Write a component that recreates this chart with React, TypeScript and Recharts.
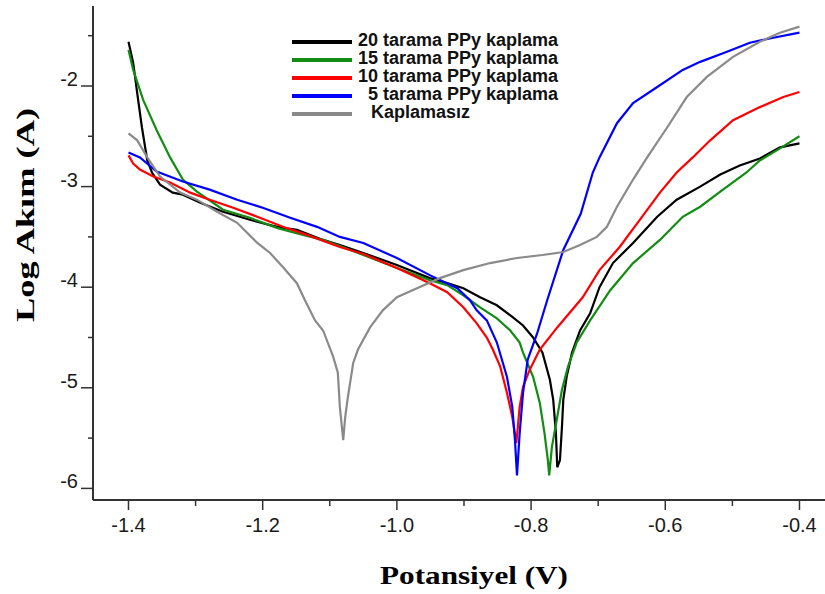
import React from 'react';
import { LineChart, Line, XAxis, YAxis, Legend, Label } from 'recharts';

// potential (V) ticks and log current ticks
const xTicks = [-1.4, -1.3, -1.2, -1.1, -1.0, -0.9, -0.8, -0.7, -0.6, -0.5, -0.4];
const yTicks = [-6, -5.5, -5, -4.5, -4, -3.5, -3, -2.5, -2, -1.5];

// [potential, log current]
const tarama20 = [
  [-1.4, -1.56], [-1.393, -1.77], [-1.387, -2.07], [-1.38, -2.41], [-1.372, -2.74],
  [-1.365, -2.86], [-1.353, -2.98], [-1.334, -3.06], [-1.319, -3.08], [-1.293, -3.16],
  [-1.259, -3.25], [-1.219, -3.33], [-1.179, -3.4], [-1.149, -3.43], [-1.11, -3.53],
  [-1.085, -3.58], [-1.05, -3.66], [-1.0, -3.78], [-0.951, -3.91], [-0.925, -3.96],
  [-0.901, -4.01], [-0.876, -4.1], [-0.851, -4.18], [-0.827, -4.3], [-0.812, -4.38],
  [-0.797, -4.5], [-0.783, -4.65], [-0.772, -4.92], [-0.767, -5.12], [-0.763, -5.45],
  [-0.761, -5.79], [-0.757, -5.72], [-0.754, -5.39], [-0.752, -5.12], [-0.747, -4.89],
  [-0.739, -4.65], [-0.727, -4.43], [-0.712, -4.26], [-0.698, -4.0], [-0.678, -3.76],
  [-0.648, -3.56], [-0.612, -3.3], [-0.583, -3.13], [-0.548, -3.0], [-0.518, -2.88],
  [-0.489, -2.79], [-0.459, -2.72], [-0.429, -2.61], [-0.4, -2.57],
];

const tarama15 = [
  [-1.4, -1.64], [-1.393, -1.84], [-1.378, -2.14], [-1.358, -2.44], [-1.338, -2.71],
  [-1.319, -2.93], [-1.298, -3.05], [-1.259, -3.23], [-1.219, -3.31], [-1.179, -3.41],
  [-1.14, -3.48], [-1.11, -3.53], [-1.085, -3.59], [-1.05, -3.68], [-1.0, -3.81],
  [-0.951, -3.93], [-0.925, -3.98], [-0.901, -4.08], [-0.876, -4.2], [-0.851, -4.31],
  [-0.831, -4.43], [-0.817, -4.55], [-0.812, -4.65], [-0.797, -4.89], [-0.787, -5.15],
  [-0.78, -5.45], [-0.775, -5.72], [-0.773, -5.87], [-0.769, -5.59], [-0.761, -5.29],
  [-0.754, -5.02], [-0.745, -4.79], [-0.732, -4.55], [-0.712, -4.33], [-0.682, -4.03],
  [-0.648, -3.76], [-0.608, -3.53], [-0.574, -3.3], [-0.548, -3.2], [-0.514, -3.03],
  [-0.479, -2.86], [-0.459, -2.74], [-0.429, -2.62], [-0.4, -2.5],
];

const tarama10 = [
  [-1.4, -2.69], [-1.393, -2.77], [-1.383, -2.83], [-1.363, -2.9], [-1.338, -2.96],
  [-1.308, -3.06], [-1.279, -3.13], [-1.244, -3.21], [-1.208, -3.3], [-1.17, -3.4],
  [-1.134, -3.48], [-1.085, -3.6], [-1.05, -3.67], [-1.0, -3.81], [-0.951, -3.96],
  [-0.925, -4.05], [-0.901, -4.2], [-0.881, -4.36], [-0.866, -4.5], [-0.857, -4.62],
  [-0.846, -4.79], [-0.836, -5.05], [-0.828, -5.29], [-0.822, -5.55], [-0.817, -5.19],
  [-0.812, -4.99], [-0.802, -4.82], [-0.787, -4.62], [-0.761, -4.4], [-0.723, -4.1],
  [-0.698, -3.83], [-0.668, -3.6], [-0.638, -3.33], [-0.608, -3.06], [-0.583, -2.86],
  [-0.559, -2.71], [-0.533, -2.54], [-0.499, -2.34], [-0.459, -2.21], [-0.424, -2.11],
  [-0.4, -2.06],
];

const tarama5 = [
  [-1.4, -2.66], [-1.383, -2.71], [-1.358, -2.85], [-1.319, -2.95], [-1.279, -3.03],
  [-1.238, -3.13], [-1.2, -3.21], [-1.159, -3.31], [-1.119, -3.4], [-1.085, -3.5],
  [-1.05, -3.56], [-1.0, -3.71], [-0.951, -3.88], [-0.91, -4.01], [-0.891, -4.13],
  [-0.881, -4.23], [-0.866, -4.33], [-0.851, -4.55], [-0.836, -4.89], [-0.828, -5.19],
  [-0.824, -5.52], [-0.821, -5.87], [-0.817, -5.45], [-0.812, -5.05], [-0.805, -4.72],
  [-0.791, -4.46], [-0.776, -4.13], [-0.752, -3.63], [-0.726, -3.27], [-0.708, -2.86],
  [-0.698, -2.71], [-0.672, -2.37], [-0.648, -2.17], [-0.612, -2.01], [-0.574, -1.84],
  [-0.548, -1.76], [-0.508, -1.66], [-0.474, -1.57], [-0.439, -1.52], [-0.4, -1.47],
];

const kaplamasiz = [
  [-1.4, -2.47], [-1.387, -2.54], [-1.372, -2.71], [-1.353, -2.9], [-1.323, -3.06],
  [-1.298, -3.13], [-1.268, -3.25], [-1.238, -3.36], [-1.208, -3.56], [-1.189, -3.66],
  [-1.17, -3.8], [-1.149, -3.96], [-1.137, -4.13], [-1.122, -4.33], [-1.11, -4.43],
  [-1.095, -4.69], [-1.088, -4.85], [-1.085, -5.19], [-1.08, -5.52], [-1.077, -5.29],
  [-1.073, -5.09], [-1.065, -4.75], [-1.058, -4.62], [-1.04, -4.4], [-1.021, -4.23],
  [-1.0, -4.1], [-0.97, -4.01], [-0.936, -3.91], [-0.901, -3.83], [-0.861, -3.76],
  [-0.821, -3.71], [-0.783, -3.68], [-0.752, -3.65], [-0.727, -3.58], [-0.702, -3.5],
  [-0.687, -3.4], [-0.672, -3.2], [-0.648, -2.93], [-0.627, -2.71], [-0.597, -2.41],
  [-0.568, -2.11], [-0.538, -1.91], [-0.499, -1.71], [-0.459, -1.56], [-0.429, -1.47],
  [-0.4, -1.41],
];

const toPoints = (pairs: number[][]) => pairs.map(([v, i]) => ({ v, i }));

const series = [
  { name: '20 tarama PPy kaplama', color: '#000000', data: toPoints(tarama20) },
  { name: '15 tarama PPy kaplama', color: '#128c12', data: toPoints(tarama15) },
  { name: '10 tarama PPy kaplama', color: '#ff0000', data: toPoints(tarama10) },
  { name: '5 tarama PPy kaplama', color: '#0000ff', data: toPoints(tarama5) },
  { name: 'Kaplamasız', color: '#8a8a8a', data: toPoints(kaplamasiz) },
];
const seriesOrder = series.map((s) => s.name);

const sans = '"Liberation Sans", Arial, sans-serif';
const serif = '"Liberation Serif", "Times New Roman", serif';
const axisColor = '#333';

const XTick = (props: any) => {
  const { x, y, payload } = props;
  const major = Math.round(payload.value * 10) % 2 === 0;
  return (
    <g>
      <line x1={x} x2={x} y1={y} y2={y + (major ? 10 : 6)} stroke={axisColor} strokeWidth={1.5} />
      {major && (
        <text x={x} y={y + 32} textAnchor="middle" fontSize={20} fontFamily={sans} fill="#1a1a1a">
          {payload.value.toFixed(1)}
        </text>
      )}
    </g>
  );
};

const YTick = (props: any) => {
  const { x, y, payload } = props;
  const major = Number.isInteger(payload.value);
  return (
    <g>
      <line x1={x - (major ? 12 : 5)} x2={x} y1={y} y2={y} stroke={axisColor} strokeWidth={1.5} />
      {major && (
        <text x={x - 15} y={y} textAnchor="end" fontSize={20} fontFamily={sans} fill="#1a1a1a">
          {String(payload.value)}
        </text>
      )}
    </g>
  );
};

const indent = [0, 0, 0, 10, 13];

const LegendBox = ({ payload }: any) => {
  const items = [...(payload || [])].sort(
    (a: any, b: any) => seriesOrder.indexOf(a.value) - seriesOrder.indexOf(b.value)
  );
  return (
    <div style={{ fontFamily: sans, fontWeight: 'bold', fontSize: 18, lineHeight: '18px', color: '#111' }}>
      {items.map((p: any, idx: number) => (
        <div key={p.value} style={{ display: 'flex', alignItems: 'center', height: 18, whiteSpace: 'nowrap' }}>
          <span
            style={{ display: 'inline-block', width: 60, height: 4, background: p.color, position: 'relative', top: 2 }}
          />
          <span
            style={{ display: 'inline-block', height: 18, lineHeight: '18px', overflow: 'visible', marginLeft: 6 + indent[idx] }}
          >
            {p.value}
          </span>
        </div>
      ))}
    </div>
  );
};

export default function App() {
  return (
    <div style={{ position: 'absolute', left: 0, top: 0, width: 825, height: 594, overflow: 'hidden', background: '#fff' }}>
      <LineChart width={860} height={594} margin={{ top: 6, right: 20, bottom: 54, left: 33 }}>
        <XAxis
          xAxisId="top"
          orientation="top"
          type="number"
          domain={[-1.4529, -0.3396]}
          allowDataOverflow
          height={0}
          tick={false}
          tickLine={false}
          axisLine={{ stroke: axisColor, strokeWidth: 2 }}
        />
        <XAxis
          dataKey="v"
          type="number"
          domain={[-1.4529, -0.3396]}
          allowDataOverflow
          ticks={xTicks}
          interval={0}
          height={40}
          tickSize={0}
          tickMargin={0}
          tickLine={false}
          tick={<XTick />}
          axisLine={{ stroke: axisColor, strokeWidth: 2 }}
        >
          <Label
            content={() => (
              <text
                x={380}
                y={584}
                fontSize={26}
                fontWeight="bold"
                fontFamily={serif}
                fill="#000"
                textLength={188}
                lengthAdjust="spacingAndGlyphs"
              >
                Potansiyel (V)
              </text>
            )}
          />
        </XAxis>
        <YAxis
          dataKey="i"
          type="number"
          domain={[-6.1153, -1.2048]}
          allowDataOverflow
          ticks={yTicks}
          interval={0}
          width={60}
          tickSize={0}
          tickMargin={0}
          tickLine={false}
          tick={<YTick />}
          axisLine={{ stroke: axisColor, strokeWidth: 2 }}
        >
          <Label
            content={() => (
              <text
                x={0}
                y={0}
                transform="translate(34, 322) rotate(-90)"
                fontSize={26}
                fontWeight="bold"
                fontFamily={serif}
                fill="#000"
                textLength={214}
                lengthAdjust="spacingAndGlyphs"
              >
                Log Akım (A)
              </text>
            )}
          />
        </YAxis>
        <Legend
          layout="vertical"
          align="center"
          verticalAlign="middle"
          content={<LegendBox />}
          wrapperStyle={{ left: 292, top: 31, width: 320 }}
        />
        {series.map((s) => (
          <Line
            key={s.name}
            data={s.data}
            dataKey="i"
            name={s.name}
            type="linear"
            stroke={s.color}
            strokeWidth={2.2}
            dot={false}
            activeDot={false}
            isAnimationActive={false}
          />
        ))}
      </LineChart>
    </div>
  );
}
